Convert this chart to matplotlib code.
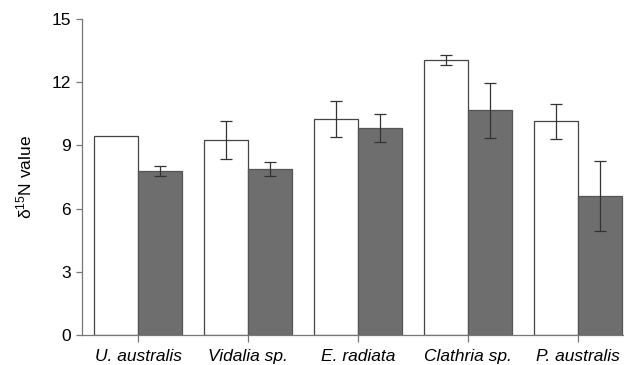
import numpy as np
import matplotlib
matplotlib.use('Agg')
import matplotlib.pyplot as plt

plt.rcParams['font.family'] = ['Liberation Sans', 'DejaVu Sans']
plt.rcParams['mathtext.default'] = 'regular'

species = ['U. australis', 'Vidalia sp.', 'E. radiata', 'Clathria sp.', 'P. australis']
white_vals = [9.45, 9.27, 10.24, 13.05, 10.14]
white_err = [0.0, 0.9, 0.85, 0.25, 0.83]
dark_vals = [7.8, 7.88, 9.82, 10.66, 6.58]
dark_err = [0.24, 0.33, 0.66, 1.3, 1.66]
yticks = [0, 3, 6, 9, 12, 15]

fig = plt.figure(figsize=(6.24, 3.65), dpi=100)
ax = fig.add_axes([0.1314, 0.0822, 0.8686, 0.866])

x = np.arange(len(species))
w = 0.4
ax.bar(x - w / 2, white_vals, w, color='white', edgecolor='#444444', linewidth=0.9)
ax.bar(x + w / 2, dark_vals, w, color='#6e6e6e', edgecolor='#555555', linewidth=0.9)

# error bars, skipping the ones with no spread
ekw = dict(fmt='none', ecolor='#333333', elinewidth=0.9, capsize=4, capthick=0.9)
for pos, vals, errs in [(x - w / 2, white_vals, white_err), (x + w / 2, dark_vals, dark_err)]:
    keep = np.array(errs) > 0
    ax.errorbar(pos[keep], np.array(vals)[keep], yerr=np.array(errs)[keep], **ekw)

ax.set_xlim(-0.51, 4.42)
ax.set_ylim(0, 15)
ax.set_yticks(yticks)
ax.set_xticks(x)
ax.set_xticklabels(species, fontstyle='italic', fontsize=12.5)
ax.tick_params(axis='y', labelsize=12.5, length=4, color='#777777', width=0.9, pad=4)
ax.tick_params(axis='x', length=5, color='#777777', width=0.9, pad=5)
for s in ['top', 'right']:
    ax.spines[s].set_visible(False)
for s in ['left', 'bottom']:
    ax.spines[s].set_color('#777777')
    ax.spines[s].set_linewidth(0.9)
ax.set_ylabel('\u03b4$^{15}$N value', fontsize=12.5, labelpad=12)

fig.savefig('out.png', dpi=100)
